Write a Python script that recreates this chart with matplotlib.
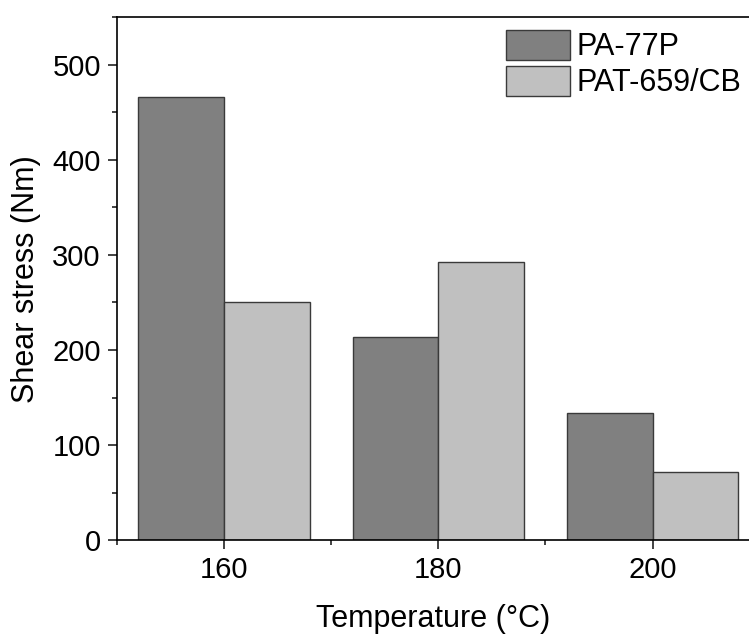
import matplotlib.pyplot as plt
import numpy as np
from matplotlib.ticker import MultipleLocator

temps = [160, 180, 200]
pa_77p = [466, 214, 134]
pat_659_cb = [250, 292, 72]

plt.rcParams["font.family"] = ["Liberation Sans", "DejaVu Sans"]

fig = plt.figure(figsize=(7.49, 6.34), dpi=100)
ax = fig.add_axes([0.156, 0.148, 0.844, 0.825])

x = np.array(temps)
width = 8
ax.bar(x - width / 2, pa_77p, width, color="#808080", edgecolor="#3a3a3a",
       linewidth=1.0, label="PA-77P")
ax.bar(x + width / 2, pat_659_cb, width, color="#c0c0c0", edgecolor="#3a3a3a",
       linewidth=1.0, label="PAT-659/CB")

ax.set_xlim(150, 209)
ax.set_ylim(0, 550)
ax.set_xticks(temps)
ax.xaxis.set_minor_locator(MultipleLocator(10))
ax.yaxis.set_major_locator(MultipleLocator(100))
ax.yaxis.set_minor_locator(MultipleLocator(50))

ax.spines["right"].set_visible(False)
for s in ("left", "bottom", "top"):
    ax.spines[s].set_linewidth(1.2)
ax.tick_params(which="major", direction="out", length=6.5, width=1.2,
               labelsize=21, pad=5, color="#222222")
ax.tick_params(which="minor", direction="out", length=3.5, width=1.2,
               color="#222222")
ax.tick_params(top=False, right=False, which="both")

ax.set_xlabel("Temperature (°C)", fontsize=22, labelpad=14)
ax.set_ylabel("Shear stress (Nm)", fontsize=22, labelpad=8)

ax.legend(loc="upper left", bbox_to_anchor=(506 / 749, (634 - 30) / 634),
          bbox_transform=fig.transFigure, frameon=False, fontsize=22,
          handlelength=2.1, handleheight=1.12, handletextpad=0.2,
          labelspacing=0.12, borderpad=0, borderaxespad=0)

fig.savefig("out.png", dpi=100)
